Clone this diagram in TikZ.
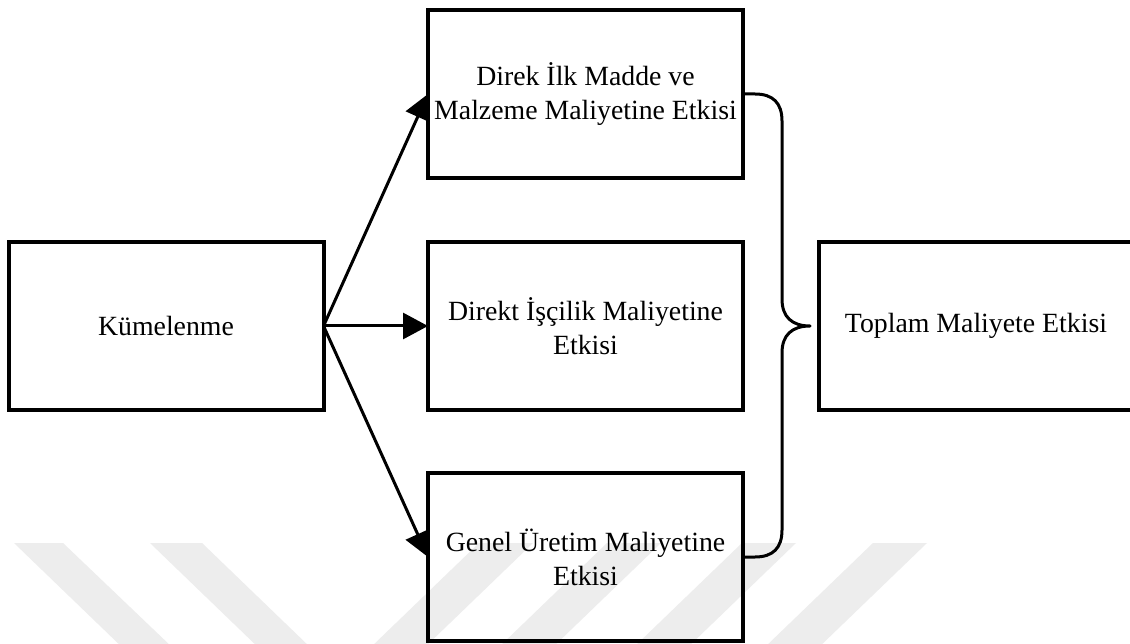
\documentclass[tikz,border=0pt]{standalone}
\usepackage{fontspec}
\setmainfont{Liberation Serif}
\usetikzlibrary{arrows.meta}

\definecolor{wmgray}{RGB}{237,237,237}

\tikzset{
  box/.style={draw=black, line width=4pt, minimum width=315pt, minimum height=168pt,
              inner sep=0pt, outer sep=0pt, align=center,
              font=\fontsize{27.8}{34}\selectfont},
  flow/.style={line width=3pt, -{Triangle[length=25pt,width=26pt]}},
  brace/.style={line width=3pt, line join=round},
  stripe/.style={fill=wmgray, draw=none}
}

\begin{document}
\begin{tikzpicture}[x=1pt, y=-1pt]
  \clip (0,0) rectangle (1130,644);
  \fill[white] (0,0) rectangle (1130,644);

  % faint diagonal band pattern along the bottom
  \fill[stripe] (14,543) -- (63,543) -- (175,650) -- (125,650) -- cycle;
  \fill[stripe] (150,543) -- (202,543) -- (313,650) -- (261,650) -- cycle;
  \fill[stripe] (479,543) -- (533,543) -- (422,650) -- (368,650) -- cycle;
  \fill[stripe] (607,543) -- (661,543) -- (550,650) -- (496,650) -- cycle;
  \fill[stripe] (742,543) -- (796,543) -- (685,650) -- (631,650) -- cycle;
  \fill[stripe] (873,543) -- (927,543) -- (816,650) -- (762,650) -- cycle;

  % boxes
  \node[box] (kum) at (166,326) {Kümelenme};
  \node[box] (ilk) at (585.5,94) {Direk İlk Madde ve\\Malzeme Maliyetine Etkisi};
  \node[box] (isc) at (585.5,326) {Direkt İşçilik Maliyetine\\Etkisi};
  \node[box] (gen) at (585.5,557) {Genel Üretim Maliyetine\\Etkisi};
  \node[box] (top) at (976,326) {Toplam Maliyete Etkisi};

  % arrows from the source box
  \draw[flow] (kum.east) -- (ilk.west);
  \draw[flow] (kum.east) -- (isc.west);
  \draw[flow] (kum.east) -- (gen.west);

  % curly brace gathering the three cost effects
  \coordinate (tip) at (810,326);
  \draw[brace] (ilk.east) -- (755,94)
    .. controls (773,94) and (782,103) .. (782,121)
    -- (782,299)
    .. controls (782,317) and (792,326) .. (tip)
    .. controls (792,326) and (782,335) .. (782,353)
    -- (782,530)
    .. controls (782,548) and (773,557) .. (755,557)
    -- (gen.east);
\end{tikzpicture}
\end{document}
